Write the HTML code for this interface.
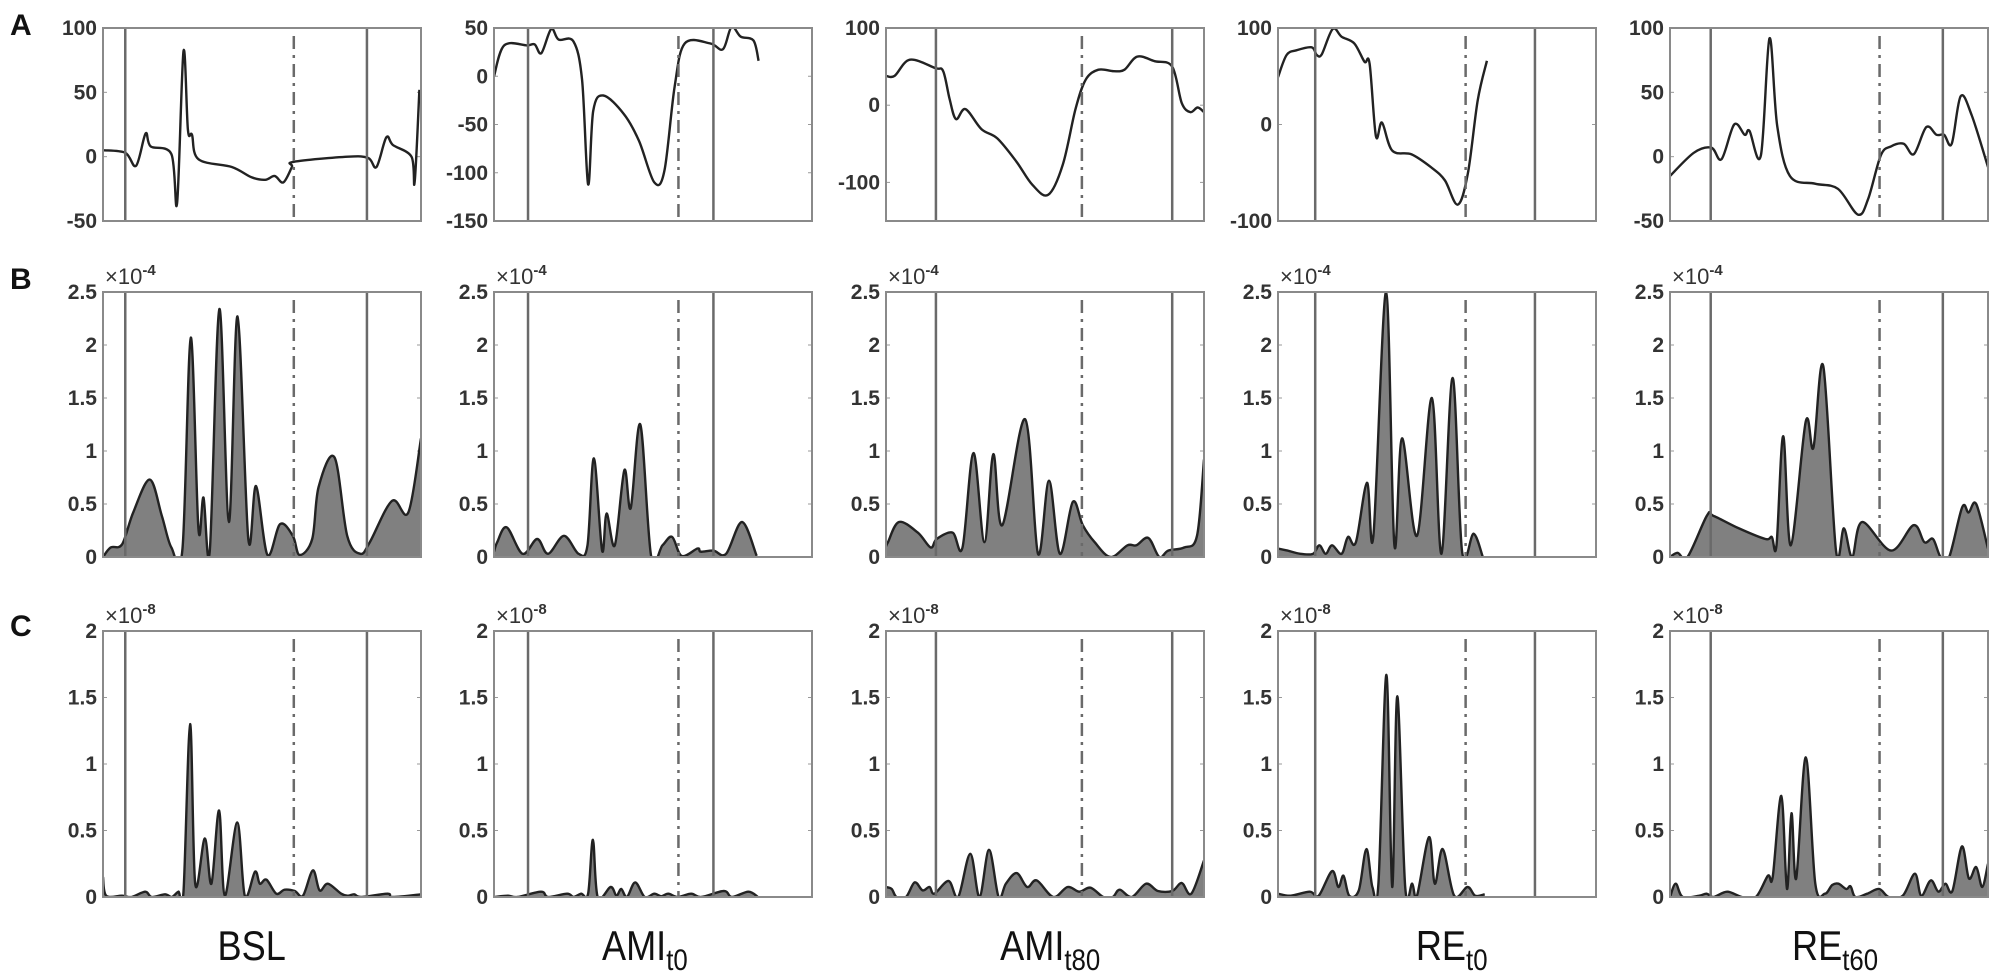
<!DOCTYPE html>
<html><head><meta charset="utf-8">
<style>
html,body{margin:0;padding:0;background:#fff;}
body{width:2008px;height:980px;overflow:hidden;position:relative;font-family:"Liberation Sans",sans-serif;}
.lab{position:absolute;top:922px;font-family:"Liberation Sans",sans-serif;font-size:42px;color:#111;transform:scaleX(0.86);transform-origin:center;white-space:nowrap;}
.lab sub{font-size:30px;vertical-align:-10px;}
</style></head>
<body>
<svg id="s" width="2008" height="980" xmlns="http://www.w3.org/2000/svg" style="position:absolute;left:0;top:0"></svg>
<div class="lab" style="left:212px">BSL</div>
<div class="lab" style="left:595px">AMI<sub>t0</sub></div>
<div class="lab" style="left:992px">AMI<sub>t80</sub></div>
<div class="lab" style="left:1410px">RE<sub>t0</sub></div>
<div class="lab" style="left:1785px">RE<sub>t60</sub></div>
<script>
const S=document.getElementById('s');
let h='';
const cols=[103,494,886,1278,1670], W=318;
const rows=[[28,221],[292,557],[631,897]];
const vl=[[.07,.6,.83],[.107,.58,.69],[.157,.616,.9],[.117,.59,.808],[.128,.659,.858]];
const A=[
[[0,5],[.07,3],[.104,-7],[.134,18],[.15,8],[.215,2],[.233,-36],[.253,82],[.267,21],[.28,17],[.3,-2],[.405,-8],[.467,-16],[.51,-18],[.54,-15],[.567,-20],[.594,-8],[.6,-4],[.77,0],[.834,-1],[.86,-8],[.891,15],[.912,9],[.97,0],[.98,-20],[.995,52]],
[[0,0],[.032,32],[.104,32],[.128,33],[.149,24],[.18,49],[.203,38],[.25,36],[.277,-4],[.296,-112],[.312,-36],[.344,-20],[.408,-39],[.456,-67],[.504,-110],[.536,-98],[.568,-11],[.6,34],[.68,34],[.72,28],[.747,51],[.776,41],[.816,37],[.832,16]],
[[0,38],[.027,38],[.075,59],[.155,48],[.18,44],[.2,8],[.22,-18],[.25,-5],[.3,-31],[.35,-43],[.41,-73],[.46,-103],[.51,-116],[.556,-77],[.596,-5],[.628,33],[.668,46],[.716,44],[.75,46],[.79,63],[.845,57],[.9,50],[.93,3],[.957,-9],[.98,-3],[1,-9]],
[[0,49],[.027,72],[.059,77],[.106,80],[.122,72],[.138,73],[.172,99],[.2,91],[.24,84],[.272,65],[.288,63],[.308,-12],[.327,2],[.359,-27],[.42,-31],[.484,-45],[.525,-58],[.565,-83],[.597,-51],[.628,25],[.657,66]],
[[0,-15],[.075,3],[.13,7],[.162,-2],[.202,25],[.235,17],[.25,20],[.286,1],[.313,92],[.337,24],[.377,-15],[.456,-21],[.528,-25],[.591,-45],[.623,-33],[.663,1],[.695,8],[.735,10],[.767,2],[.806,23],[.838,17],[.862,17],[.886,10],[.914,47],[.949,32],[1,-8]]];
const Ar=[[-50,100,[-50,0,50,100]],[-150,50,[-150,-100,-50,0,50]],[-150,100,[-100,0,100]],[-100,100,[-100,0,100]],[-50,100,[-50,0,50,100]]];
function g3(pts){return pts.map(p=>[(p[0]-886)/320,p[1]]);}
const B=[
[[0,0],[.024,.09],[.06,.12],[.095,.42],[.147,.73],[.185,.39],[.215,.09],[.25,.08],[.276,2.07],[.3,.27],[.316,.56],[.336,.06],[.366,2.34],[.396,.33],[.423,2.27],[.457,.17],[.481,.67],[.517,.02],[.557,.31],[.597,.2],[.618,.02],[.658,.17],[.678,.66],[.728,.94],[.768,.2],[.809,.03],[.839,.14],[.909,.53],[.96,.42],[1,1.12]],
[[0,.05],[.01,.14],[.04,.28],[.09,.03],[.136,.17],[.17,.03],[.22,.2],[.266,.03],[.294,.11],[.314,.93],[.34,.06],[.354,.41],[.38,.11],[.41,.82],[.43,.46],[.46,1.25],[.494,.01],[.53,.11],[.56,.19],[.59,.01],[.64,.08],[.65,.05],[.69,.06],[.73,.03],[.78,.33],[.826,.01]],
g3([[886,.1],[888,.14],[899,.33],[918,.23],[931,.09],[937,.17],[953,.23],[963,.09],[974,.98],[985,.14],[994,.97],[1003,.3],[1026,1.3],[1039,.03],[1050,.72],[1061,.03],[1074,.52],[1084,.3],[1096,.14],[1112,0],[1129,.11],[1138,.11],[1150,.18],[1161,0],[1170,.06],[1186,.09],[1199,.2],[1206,.92]]),
[[0,.08],[.03,.06],[.07,.03],[.11,.03],[.13,.11],[.15,.03],[.17,.11],[.2,.03],[.22,.19],[.245,.14],[.28,.7],[.3,.2],[.34,2.5],[.366,.11],[.39,1.12],[.437,.2],[.484,1.5],[.514,.03],[.549,1.69],[.579,.05],[.615,.22],[.644,0]],
[[0,0],[.024,.04],[.055,0],[.116,.39],[.136,.39],[.217,.27],[.3,.17],[.32,.19],[.335,.11],[.356,1.14],[.38,.11],[.427,1.28],[.451,1.03],[.482,1.8],[.522,.06],[.547,.27],[.573,0],[.604,.33],[.695,.06],[.766,.3],[.8,.14],[.827,.17],[.851,0],[.878,0],[.919,.47],[.939,.42],[.963,.5],[1,.08]]];
const C=[
[[0,.15],[.01,.01],[.06,.01],[.09,0],[.133,.04],[.153,0],[.195,.02],[.216,0],[.237,.04],[.253,.04],[.274,1.3],[.29,.1],[.32,.44],[.341,.1],[.365,.65],[.383,.01],[.422,.56],[.446,.01],[.478,.19],[.493,.1],[.514,.13],[.545,.025],[.571,.055],[.603,.045],[.629,.01],[.66,.2],[.681,.05],[.707,.1],[.749,.025],[.77,.01],[.79,.02],[.812,0],[.895,.025],[.911,0],[1,.02]],
[[0,0],[.044,.01],[.074,0],[.148,.04],[.17,0],[.23,.025],[.25,0],[.274,.025],[.296,.025],[.311,.43],[.326,0],[.367,.075],[.385,.01],[.4,.06],[.418,0],[.444,.11],[.474,0],[.504,.025],[.526,.005],[.548,.025],[.578,0],[.62,.025],[.652,0],[.723,.045],[.748,0],[.8,.04],[.83,0]],
[[0,.075],[.018,.06],[.033,0],[.063,0],[.09,.11],[.115,.05],[.137,.075],[.152,.025],[.197,.12],[.227,0],[.265,.325],[.294,0],[.324,.355],[.354,0],[.377,.1],[.411,.18],[.444,.075],[.474,.125],[.526,0],[.571,.075],[.608,.04],[.643,.07],[.683,0],[.713,0],[.735,.055],[.773,0],[.818,.1],[.855,.045],[.9,.045],[.93,.105],[.96,.025],[1,.275]],
[[0,.025],[.04,.01],[.1,.04],[.128,.01],[.17,.195],[.19,.075],[.206,.16],[.224,.01],[.254,.05],[.278,.36],[.297,.075],[.316,.11],[.341,1.67],[.359,.075],[.375,1.51],[.4,.075],[.422,.1],[.437,.01],[.475,.45],[.493,.1],[.518,.36],[.554,.01],[.596,.075],[.62,.01],[.65,.02]],
[[0,0],[.018,.1],[.04,0],[.092,.01],[.115,.025],[.137,0],[.18,.04],[.226,0],[.27,0],[.308,.16],[.323,.15],[.35,.76],[.368,.06],[.382,.63],[.397,.14],[.427,1.05],[.457,.1],[.487,.025],[.51,.09],[.53,.1],[.554,.06],[.568,.08],[.583,0],[.62,.025],[.658,.06],[.688,0],[.732,.01],[.77,.175],[.79,.01],[.82,.125],[.844,.04],[.866,.1],[.888,.045],[.918,.38],[.94,.14],[.963,.225],[.982,.075],[1,.25]]];
function path(P){
  let d='M'+P[0][0].toFixed(1)+','+P[0][1].toFixed(1);
  for(let i=0;i<P.length-1;i++){
    const p0=P[Math.max(0,i-1)],p1=P[i],p2=P[i+1],p3=P[Math.min(P.length-1,i+2)];
    const c1=[p1[0]+(p2[0]-p0[0])/6,p1[1]+(p2[1]-p0[1])/6];
    const c2=[p2[0]-(p3[0]-p1[0])/6,p2[1]-(p3[1]-p1[1])/6];
    d+='C'+c1[0].toFixed(1)+','+c1[1].toFixed(1)+' '+c2[0].toFixed(1)+','+c2[1].toFixed(1)+' '+p2[0].toFixed(1)+','+p2[1].toFixed(1);
  }
  return d;
}
const TC='#333';
let cid=0;
function panel(c,r,data,ymin,ymax,ticks,fill,expo){
  const x0=cols[c],y0=rows[r][0],y1=rows[r][1],H=y1-y0;
  const X=f=>x0+f*W, Y=v=>y1-(v-ymin)/(ymax-ymin)*H;
  cid++;
  h+=`<clipPath id="c${cid}"><rect x="${x0}" y="${y0}" width="${W}" height="${H}"/></clipPath>`;
  ticks.forEach(t=>{h+=`<text x="${x0-6}" y="${Y(t)+7}" text-anchor="end" font-size="21" font-weight="bold" fill="${TC}" font-family="Liberation Sans">${t}</text>`;
    h+=`<line x1="${x0}" x2="${x0+4}" y1="${Y(t)}" y2="${Y(t)}" stroke="#999" stroke-width="1"/><line x1="${x0+W}" x2="${x0+W-4}" y1="${Y(t)}" y2="${Y(t)}" stroke="#999" stroke-width="1"/>`;});
  if(expo){h+=`<text x="${x0+2}" y="${y0-8}" font-size="22" fill="${TC}" font-family="Liberation Sans">×10<tspan dy="-9" font-size="15" font-weight="bold">${expo}</tspan></text>`;}
  const P=data.map(p=>[X(p[0]),Y(p[1])]);
  const d=path(P);
  h+=`<g clip-path="url(#c${cid})">`;
  if(fill){h+=`<path d="${d}L${P[P.length-1][0].toFixed(1)},${y1}L${P[0][0].toFixed(1)},${y1}Z" fill="#808080" stroke="none"/>`;}
  h+=`<path d="${d}" fill="none" stroke="#222" stroke-width="2.4"/>`;
  h+='</g>';
  const v=vl[c];
  h+=`<line x1="${X(v[0])}" x2="${X(v[0])}" y1="${y0+1}" y2="${y1}" stroke="#6a6a6a" stroke-width="2.5"/>`;
  h+=`<line x1="${X(v[2])}" x2="${X(v[2])}" y1="${y0+1}" y2="${y1}" stroke="#6a6a6a" stroke-width="2.5"/>`;
  h+=`<line x1="${X(v[1])}" x2="${X(v[1])}" y1="${y0+8}" y2="${y1}" stroke="#6a6a6a" stroke-width="2.5" stroke-dasharray="13,6,3,6"/>`;
  h+=`<rect x="${x0}" y="${y0}" width="${W}" height="${H}" fill="none" stroke="#8a8a8a" stroke-width="2"/>`;
}
for(let c=0;c<5;c++){
  panel(c,0,A[c],Ar[c][0],Ar[c][1],Ar[c][2],false,null);
  panel(c,1,B[c],0,2.5,[0,0.5,1,1.5,2,2.5],true,'-4');
  panel(c,2,C[c],0,2,[0,0.5,1,1.5,2],true,'-8');
}
h+=`<text x="10" y="35" font-size="30" font-weight="bold" fill="#111" font-family="Liberation Sans">A</text>`;
h+=`<text x="10" y="289" font-size="30" font-weight="bold" fill="#111" font-family="Liberation Sans">B</text>`;
h+=`<text x="10" y="636" font-size="30" font-weight="bold" fill="#111" font-family="Liberation Sans">C</text>`;
S.innerHTML=h;
</script>
</body></html>
